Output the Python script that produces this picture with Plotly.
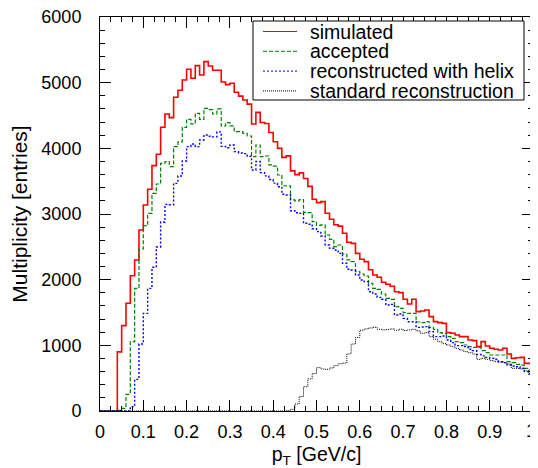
import numpy as np
import plotly.graph_objects as go

# 100 bins of width 0.01 GeV/c from 0 to 1
n_bins = 100
bin_edges = np.linspace(0.0, 1.0, n_bins + 1)

x_tick_values = [0, 0.1, 0.2, 0.3, 0.4, 0.5, 0.6, 0.7, 0.8, 0.9, 1.0]
x_tick_labels = ["0", "0.1", "0.2", "0.3", "0.4", "0.5", "0.6", "0.7", "0.8", "0.9", "1"]
y_tick_values = [0, 1000, 2000, 3000, 4000, 5000, 6000]
y_tick_labels = ["0", "1000", "2000", "3000", "4000", "5000", "6000"]

simulated = [0, 0, 0, 0, 900, 1300, 1640, 2060, 2300, 2757,
             3137, 3376, 3736, 3909, 4320, 4523, 4467, 4777, 4884, 5041,
             5204, 5067, 5259, 5117, 5320, 5254, 5190, 5190, 5010, 4970,
             4990, 4855, 4795, 4737, 4673, 4371, 4547, 4393, 4379, 4240,
             4101, 3999, 3862, 3885, 3657, 3600, 3627, 3540, 3420, 3224,
             3173, 3188, 3011, 2920, 2836, 2816, 2706, 2569, 2553, 2401,
             2310, 2274, 2150, 2070, 2036, 1960, 1930, 1900, 1817, 1802,
             1701, 1630, 1701, 1513, 1523, 1538, 1437, 1361, 1346, 1335,
             1193, 1183, 1157, 1132, 1132, 1081, 1071, 980, 1056, 990,
             955, 940, 929, 955, 868, 802, 812, 817, 726, 726]

accepted = [0, 0, 0, 0, 10, 40, 254, 1056, 1868, 2467,
            2822, 3010, 3315, 3457, 3772, 3797, 3721, 4026, 4097, 4320,
            4442, 4371, 4533, 4442, 4610, 4590, 4523, 4600, 4341, 4391,
            4341, 4254, 4254, 4229, 4188, 3873, 4051, 3873, 3883, 3747,
            3730, 3594, 3430, 3427, 3214, 3200, 3220, 3026, 3020, 2884,
            2828, 2833, 2680, 2614, 2503, 2528, 2391, 2300, 2274, 2122,
            2086, 2056, 1944, 1868, 1853, 1782, 1716, 1700, 1589, 1564,
            1498, 1488, 1488, 1355, 1345, 1360, 1274, 1244, 1193, 1183,
            1132, 1107, 1056, 1041, 1005, 980, 970, 970, 919, 888,
            853, 853, 853, 853, 751, 736, 711, 700, 650, 624]

helix = [0, 0, 0, 0, 0, 0, 0, 66, 482, 1020,
         1487, 1868, 2188, 2498, 2878, 3147, 3140, 3467, 3579, 3808,
         4026, 4066, 4026, 4127, 4203, 4185, 4175, 4250, 4030, 4010,
         4050, 3950, 3930, 3920, 3880, 3670, 3800, 3630, 3580, 3525,
         3470, 3415, 3300, 3290, 3050, 3020, 3010, 2858, 2845, 2775,
         2731, 2665, 2528, 2478, 2452, 2401, 2249, 2158, 2147, 2071,
         1995, 1970, 1817, 1782, 1731, 1701, 1614, 1624, 1462, 1477,
         1411, 1360, 1360, 1274, 1279, 1285, 1208, 1132, 1132, 1142,
         1081, 1041, 995, 995, 980, 940, 919, 860, 840, 817,
         802, 787, 751, 736, 700, 685, 675, 650, 599, 563]

standard = [0] * 43 + [5, 25, 107, 220, 370, 490, 570,
            660, 640, 635, 655, 690, 720, 730, 870, 1020, 1120,
            1230, 1250, 1265, 1275, 1245, 1235, 1240, 1250, 1230, 1245,
            1225, 1235, 1245, 1220, 1183, 1193, 1132, 1092, 1056, 1030,
            1005, 980, 955, 929, 904, 888, 868, 787, 802, 787,
            767, 756, 746, 736, 716, 650, 650, 640, 614, 574]

series_names = ["simulated", "accepted", "reconstructed with helix", "standard reconstruction"]
series_values = [simulated, accepted, helix, standard]
series_colors = ["#ff0000", "#008000", "#0000ff", "#000000"]
series_widths = [1.6, 1.2, 1.4, 1.0]
series_dashes = ["solid", "4px,2px", "2px,2px", "1px,1px"]

FONT = "Liberation Sans, Arial, Helvetica, sans-serif"

# page has an 8px body margin; size the figure to fill the rest of the window
BODY = 8
W, H = 538 - BODY, 468 - BODY
# target plot area in window pixels: x 100..533, y 17..411
ML, MR, MT, MB = 100 - BODY, 538 - 533, 17 - BODY, 468 - 411
PW, PH = W - ML - MR, H - MT - MB
X_RANGE = [0, 1]


def px_to_paper_x(px):  # window pixel -> paper coordinate
    return (px - BODY - ML) / PW


def px_to_paper_y(py):
    return (H - MB - (py - BODY)) / PH


fig = go.Figure()
for name, vals, color, width, dash in zip(series_names, series_values, series_colors,
                                           series_widths, series_dashes):
    assert len(vals) == n_bins
    yv = list(vals) + [vals[-1]]
    fig.add_trace(go.Scatter(
        x=bin_edges, y=yv, mode="lines", name=name, showlegend=False,
        line=dict(color=color, width=width, dash=dash, shape="hv"),
    ))

# ROOT-style legend box (TLegend look)
box_l, box_r, box_t, box_b = 253, 524, 21, 100
shapes = [dict(type="rect", xref="paper", yref="paper",
               x0=px_to_paper_x(box_l), x1=px_to_paper_x(box_r),
               y0=px_to_paper_y(box_b), y1=px_to_paper_y(box_t),
               line=dict(color="black", width=1), fillcolor="white", layer="above")]
annotations = []
for i, (name, color, dash) in enumerate(zip(series_names, series_colors, series_dashes)):
    row_y = px_to_paper_y(box_t + 10.5 + 19.8 * i)
    shapes.append(dict(type="line", xref="paper", yref="paper",
                       x0=px_to_paper_x(263), x1=px_to_paper_x(297), y0=row_y, y1=row_y,
                       line=dict(color=color, width=1, dash=dash), layer="above"))
    annotations.append(dict(xref="paper", yref="paper", x=px_to_paper_x(308), y=row_y,
                            text=name, showarrow=False, xanchor="left", yanchor="middle",
                            font=dict(family=FONT, size=19.5, color="black")))

# plotly drops the label at the right end of the x axis at the page edge, so it is
# written as paper-anchored text kept inside the figure, next to that axis value
last_frac = (x_tick_values[-1] - X_RANGE[0]) / (X_RANGE[1] - X_RANGE[0])
annotations.append(dict(xref="paper", yref="paper",
                        x=last_frac + 4.0 / PW, y=px_to_paper_y(431),
                        text=x_tick_labels[-1], showarrow=False, xanchor="right",
                        yanchor="middle", borderpad=0,
                        font=dict(family=FONT, size=18, color="black")))

fig.update_layout(
    width=W, height=H,
    margin=dict(l=ML, r=MR, t=MT, b=MB, autoexpand=False),
    paper_bgcolor="white", plot_bgcolor="white",
    font=dict(family=FONT, size=18, color="black"),
    showlegend=False,
    shapes=shapes,
    annotations=annotations,
    xaxis=dict(
        range=X_RANGE, tickmode="array",
        tickvals=x_tick_values[:-1], ticktext=x_tick_labels[:-1],
        ticks="inside", ticklen=11, tickcolor="black", tickwidth=1,
        minor=dict(dtick=0.025, tick0=0, ticks="inside", ticklen=5, tickcolor="black"),
        showline=True, linecolor="black", linewidth=1, mirror="allticks",
        showgrid=False, zeroline=False, automargin=False,
        ticklabelstandoff=4, ticklabeloverflow="allow",
        tickfont=dict(size=18),
        title=dict(text="p<sub>T</sub> [GeV/c]", font=dict(size=19.5), standoff=14),
    ),
    yaxis=dict(
        range=[0, 6000], tickmode="array", tickvals=y_tick_values, ticktext=y_tick_labels,
        ticks="inside", ticklen=11, tickcolor="black", tickwidth=1,
        minor=dict(dtick=200, tick0=0, ticks="inside", ticklen=5, tickcolor="black"),
        showline=True, linecolor="black", linewidth=1, mirror="allticks",
        showgrid=False, zeroline=False, automargin=False,
        ticklabelstandoff=14, ticklabeloverflow="allow",
        tickfont=dict(size=18),
        title=dict(text="Multiplicity [entries]", font=dict(size=21), standoff=10),
    ),
)

fig.write_html("out.html")
